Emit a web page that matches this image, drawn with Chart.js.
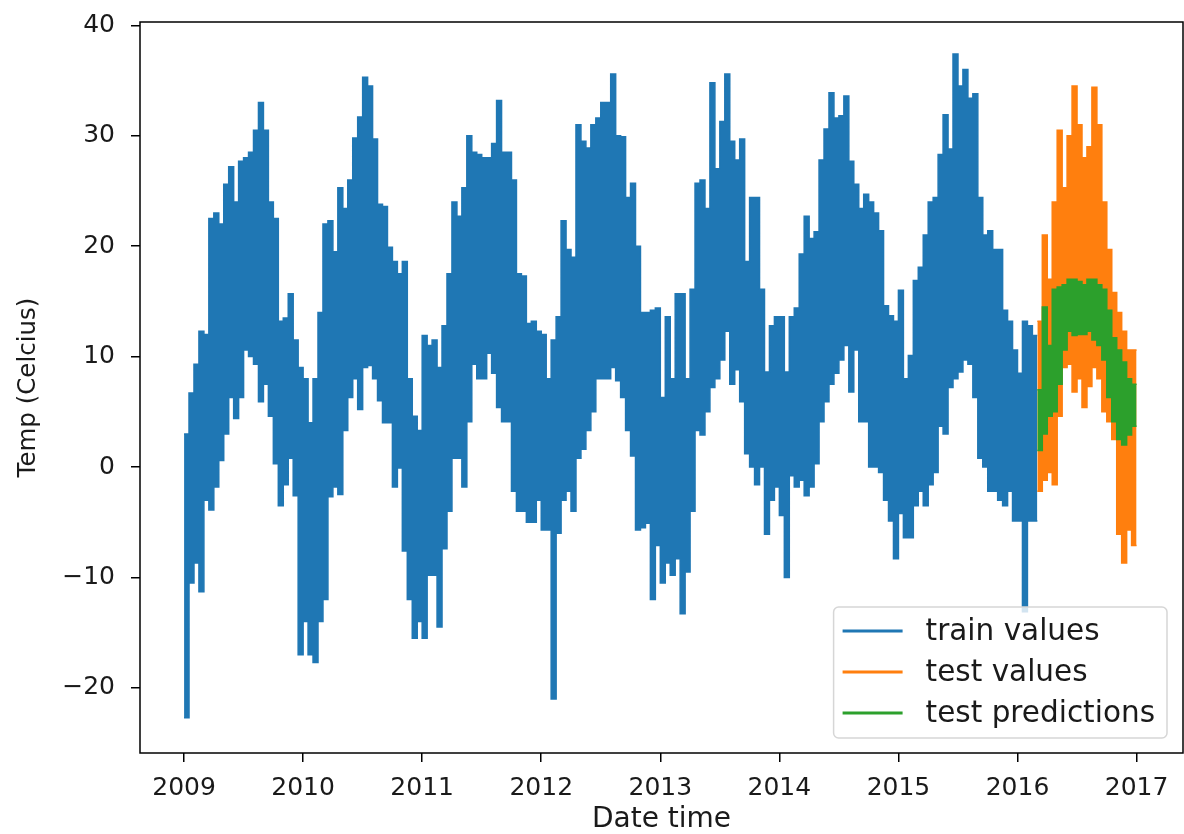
<!DOCTYPE html>
<html>
<head>
<meta charset="utf-8">
<script src="https://cdn.jsdelivr.net/npm/chart.js@4.4.0/dist/chart.umd.min.js"></script>
<style>
  html, body { margin: 0; padding: 0; background: #fff; }
  #wrap { width: 1184px; height: 834px; }
</style>
</head>
<body>
<div id="wrap"><canvas id="chart" width="1184" height="834"></canvas></div>
<script>
// bands, one value per half month (upper and lower edge)
const step = 1 / 24
const trainStart = 2009
const trainHigh = [
  3, 6.7, 9.3, 12.3, 12, 22.5, 23, 22, 25.6, 27.2, 24, 27.7, 28, 28.5, 30.5, 33, 30.5, 24, 22.5, 13.2, 13.5, 15.7, 11.5, 9,
  8, 4, 8, 14, 22, 22.3, 19.5, 25.3, 23.4, 26, 29.8, 31.7, 35.3, 34.5, 29.7, 23.8, 23.6, 19.9, 18.6, 17.5, 18.6, 8, 4.6, 3.3,
  11.9, 11, 11.5, 9, 12.8, 17.5, 24, 22.7, 25.3, 30, 28.5, 28.3, 28, 28, 29.3, 33.2, 28.5, 28.5, 26, 17.5, 17.3, 13, 13.2, 12.3,
  12, 8, 11.5, 13.6, 22.3, 19.7, 19, 31, 29.5, 28.9, 31, 31.6, 33, 33, 35.6, 30, 29.9, 24.4, 25.7, 20, 14, 14, 14.2, 14.4,
  6.3, 13.6, 8, 15.7, 15.7, 8, 16.1, 25.7, 26, 23.4, 34.8, 27, 31.3, 35.6, 29.5, 27.8, 29.7, 18.6, 24.4, 24.4, 16.1, 8.6, 12.8, 13.6,
  13.6, 8.6, 13.6, 14.4, 19.3, 22.7, 20.7, 21.3, 27.8, 30.6, 33.9, 31.6, 31.8, 33.6, 27.7, 25.6, 23.4, 24.7, 24, 23, 21.4, 14.6, 13.7, 13.2,
  16, 8, 10.1, 16.9, 18.1, 21, 24, 24.4, 28.3, 31.9, 28.8, 37.4, 34.5, 36, 33.4, 33.8, 24.4, 21, 21.4, 19.7, 19.7, 14.2, 13.2, 10.6,
  8.5, 13.2, 12.8, 11.9
]
const trainLow = [
  -22.7, -10.5, -8.7, -11.3, -3, -3.9, -1.8, 0.6, 3, 6.3, 4.4, 6.3, 10.6, 10, 9.3, 5.9, 7.5, 4.6, 0.3, -3.5, -1.6, 0.8, -2.6, -17,
  -14, -17, -17.7, -14, -12, -2.7, -1.8, -2.5, 3.3, 6.3, 8, 5.2, 9, 9.2, 8, 6, 4, 4, -1.8, -0.1, -7.6, -12, -15.5, -14,
  -15.5, -9.8, -9.8, -14.5, -7.4, -4, 0.8, 0.8, -1.8, 4.1, 9.3, 8, 8, 10.3, 8.5, 5.4, 4.1, 4.1, -2.2, -4, -4, -5, -5, -3,
  -5.7, -5.7, -21, -6, -3, -2.2, -4, 0.8, 1.6, 3.3, 5, 8, 8, 8, 9, 7.8, 6.3, 3.3, 1, -5.7, -5.5, -5.1, -12, -7.1,
  -10.5, -8.7, -9.8, -8.3, -13.3, -9.5, -4, 3.3, 2.9, 5, 7.2, 8, 9.7, 12.3, 7.5, 8.8, 5.9, 1.2, 0, -1.6, 0, -6.1, -3, -1.8,
  -4.4, -10, -0.8, -1.8, -1.2, -2.6, -1.8, 0.3, 4.1, 5.9, 7.5, 8.5, 9.7, 11, 6.8, 10.6, 4.1, 4.1, 0, 0, -0.5, -3, -4.9, -8.3,
  -4.2, -6.4, -6.4, -3.5, -2.2, -3.5, -1.6, -0.5, 3.7, 3, 7.2, 8, 8.6, 9.7, 9.3, 6.3, 0.8, 0, -2.2, -2.2, -3, -3.5, -2.2, -4.9,
  -4.9, -13.1, -4.9, -4.9
]
const testStart = 2016 + 4 / 24
const testHigh = [13.2, 21, 17, 24, 30.5, 25.3, 30, 34.5, 31, 28, 29, 34.4, 31, 24, 19.7, 15.8, 14, 12.3, 10.6, 10.6]
const testLow = [-2.2, -1.2, -0.5, -1.6, 4.6, 9, 9.3, 6.8, 8, 5.4, 7.3, 9, 8, 5, 4.1, 2.5, -6.1, -8.7, -5.7, -7.1]
const predHigh = [7, 14.5, 11, 16.1, 16.3, 16.5, 17, 17, 16.8, 16.5, 17, 17, 16.5, 16.1, 14.2, 11.7, 10.6, 9.5, 8, 7.5]
const predLow = [1.5, 3, 4.6, 5, 7.5, 10.6, 12.3, 11.9, 12, 12, 12.3, 11.5, 11, 9.7, 6.3, 4.1, 2.5, 2, 2.9, 3.7]

const yearTicks = [2009, 2010, 2011, 2012, 2013, 2014, 2015, 2016, 2017]
const tempTicks = [-20, -10, 0, 10, 20, 30, 40]
const seriesLabels = ['train values', 'test values', 'test predictions']
const seriesColors = ['#1f77b4', '#ff7f0e', '#2ca02c']

// each half-month value holds over its own interval
function toSteps (start, values) {
  const pts = []
  values.forEach((v, i) => {
    pts.push({ x: start + i * step, y: v })
    pts.push({ x: start + (i + 1) * step, y: v })
  })
  return pts
}

function band (label, color, start, high, low, order) {
  const common = { borderColor: color, backgroundColor: color, borderWidth: 1.5, pointRadius: 0, tension: 0, order: order }
  return [
    Object.assign({ label: label, data: toSteps(start, high), fill: '+1' }, common),
    Object.assign({ label: label + ' low', data: toSteps(start, low), fill: false }, common)
  ]
}

// full box round the plot, like matplotlib spines
const frame = {
  id: 'frame',
  afterDatasetsDraw (chart) {
    const { ctx, chartArea } = chart
    ctx.save()
    ctx.strokeStyle = '#000'
    ctx.lineWidth = 1.5
    ctx.strokeRect(chartArea.left, chartArea.top, chartArea.right - chartArea.left, chartArea.bottom - chartArea.top)
    ctx.restore()
  }
}

// legend box in the lower right corner of the plot
const boxLegend = {
  id: 'boxLegend',
  afterDraw (chart) {
    const { ctx, chartArea } = chart
    ctx.save()
    ctx.font = '29.5px "DejaVu Sans"'
    const textW = Math.max(...seriesLabels.map(t => ctx.measureText(t).width))
    const rowH = 41
    const w = 92 + textW + 12
    const h = rowH * seriesLabels.length + 8
    const right = chartArea.right - 16
    const bottom = chartArea.bottom - 15
    const left = right - w
    const top = bottom - h
    ctx.beginPath()
    ctx.roundRect(left, top, w, h, 5)
    ctx.fillStyle = 'rgba(255,255,255,0.8)'
    ctx.fill()
    ctx.strokeStyle = '#d6d6d6'
    ctx.lineWidth = 1.5
    ctx.stroke()
    seriesLabels.forEach((t, i) => {
      const y = top + 24 + i * rowH
      ctx.beginPath()
      ctx.moveTo(left + 9, y)
      ctx.lineTo(left + 69, y)
      ctx.strokeStyle = seriesColors[i]
      ctx.lineWidth = 3
      ctx.stroke()
      ctx.fillStyle = '#1a1a1a'
      ctx.textBaseline = 'middle'
      ctx.fillText(t, left + 92, y + 1)
    })
    ctx.restore()
  }
}

Chart.defaults.font.family = '"DejaVu Sans"'
Chart.defaults.color = '#1a1a1a'

new Chart(document.getElementById('chart'), {
  type: 'line',
  data: {
    datasets: [
      ...band(seriesLabels[2], seriesColors[2], testStart, predHigh, predLow, 0),
      ...band(seriesLabels[1], seriesColors[1], testStart, testHigh, testLow, 1),
      ...band(seriesLabels[0], seriesColors[0], trainStart, trainHigh, trainLow, 2)
    ]
  },
  options: {
    responsive: false,
    animation: false,
    layout: { padding: { left: 0, right: 1, top: 22, bottom: 0 } },
    plugins: { legend: { display: false }, tooltip: { enabled: false } },
    scales: {
      x: {
        type: 'linear',
        min: 2008.63,
        max: 2017.39,
        afterBuildTicks: scale => { scale.ticks = yearTicks.map(v => ({ value: v })) },
        afterFit: scale => { scale.height = 81; scale.paddingLeft = 0; scale.paddingRight = 0 },
        border: { display: false },
        grid: { drawOnChartArea: false, drawTicks: true, tickLength: 9, tickColor: '#000', lineWidth: 1.5 },
        ticks: { autoSkip: false, maxRotation: 0, padding: 11, font: { size: 25 }, callback: v => String(v) },
        title: { display: true, text: 'Date time', font: { size: 28, lineHeight: 1 }, padding: { top: 0, bottom: 0 } }
      },
      y: {
        min: -25.9,
        max: 40.3,
        afterBuildTicks: scale => { scale.ticks = tempTicks.map(v => ({ value: v })) },
        afterFit: scale => { scale.width = 140; scale.paddingTop = 0; scale.paddingBottom = 0 },
        border: { display: false },
        grid: { drawOnChartArea: false, drawTicks: true, tickLength: 9, tickColor: '#000', lineWidth: 1.5 },
        ticks: { padding: 16, font: { size: 25 }, callback: v => v < 0 ? '\u2212' + Math.abs(v) : String(v) },
        title: { display: true, text: 'Temp (Celcius)', font: { size: 24.5, lineHeight: 1 }, padding: { top: 16, bottom: 0 } }
      }
    }
  },
  plugins: [frame, boxLegend]
})
</script>
</body>
</html>
